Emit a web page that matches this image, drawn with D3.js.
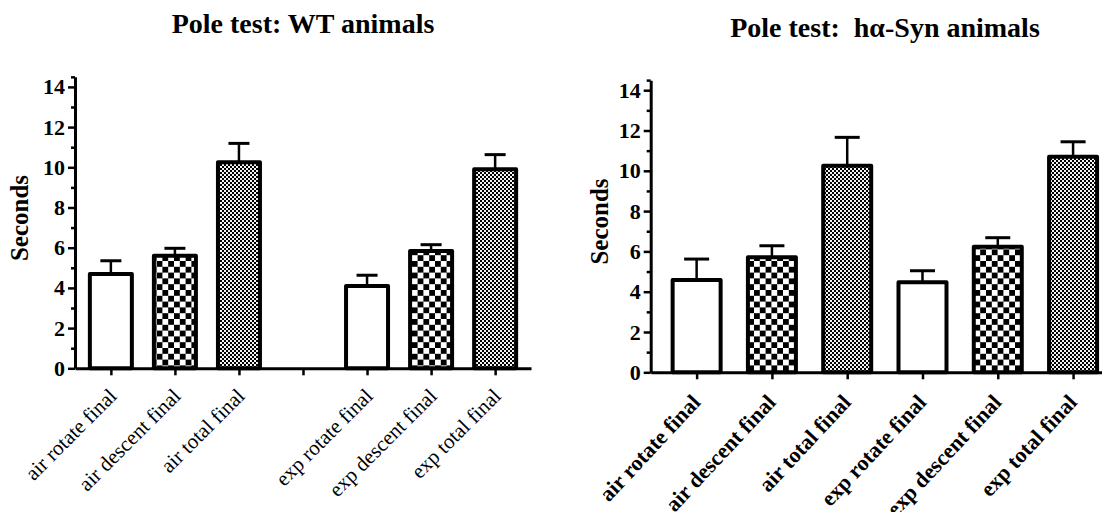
<!DOCTYPE html>
<html>
<head>
<meta charset="utf-8">
<script src="https://cdn.jsdelivr.net/npm/d3@7"></script>
<style>
  html, body { margin: 0; padding: 0; background: #fff; }
  svg { display: block; }
  text { font-family: "Liberation Serif", "Times New Roman", serif; fill: #000; }
</style>
</head>
<body>
<svg id="chart" width="1102" height="512"></svg>
<script>
// ---------- data ----------
const wtTitle = "Pole test: WT animals";
const synTitle = "Pole test:  h\u03B1-Syn animals";
const yLabel = "Seconds";

const wtCategories = ["air rotate final", "air descent final", "air total final", "", "exp rotate final", "exp descent final", "exp total final"];
const wtTypes      = ["rotate", "descent", "total", null, "rotate", "descent", "total"];
const wtMeans      = [4.69, 5.60, 10.25, null, 4.10, 5.84, 9.90];
const wtSEM        = [0.66, 0.37, 0.94, null, 0.53, 0.31, 0.73];

const synCategories = ["air rotate final", "air descent final", "air total final", "exp rotate final", "exp descent final", "exp total final"];
const synTypes      = ["rotate", "descent", "total", "rotate", "descent", "total"];
const synMeans      = [4.58, 5.71, 10.25, 4.47, 6.23, 10.70];
const synSEM        = [1.04, 0.57, 1.41, 0.57, 0.45, 0.74];

const yMajorTicks = [0, 2, 4, 6, 8, 10, 12, 14];
const yMinorTicks = [1, 3, 5, 7, 9, 11, 13, 14.5];
const yMax = 14.5;

// ---------- drawing ----------
const svg = d3.select("#chart");
const defs = svg.append("defs");

function addChecker(id, cell, bg) {
  const p = defs.append("pattern").attr("id", id)
    .attr("patternUnits", "userSpaceOnUse")
    .attr("width", cell * 2).attr("height", cell * 2);
  p.append("rect").attr("width", cell * 2).attr("height", cell * 2).attr("fill", bg);
  p.append("rect").attr("width", cell).attr("height", cell).attr("fill", "#000");
  p.append("rect").attr("x", cell).attr("y", cell).attr("width", cell).attr("height", cell).attr("fill", "#000");
}
addChecker("checkBig", 5.8, "#fff");
addChecker("checkFine", 2, "#f4f4f4");

const fillFor = { rotate: "#fff", descent: "url(#checkBig)", total: "url(#checkFine)" };
const serif = "'Liberation Serif', 'Times New Roman', serif";

function drawPanel(cfg) {
  const g = svg.append("g");
  const x = d3.scalePoint().domain(d3.range(cfg.categories.length))
    .range([cfg.left, cfg.right]).padding(cfg.padding);
  const y = d3.scaleLinear().domain([0, yMax]).range([cfg.zero, cfg.zero - yMax * cfg.unit]);

  // title
  g.append("text").attr("x", cfg.titleX).attr("y", cfg.titleY)
    .attr("text-anchor", "middle").style("white-space", "pre")
    .style("font-weight", "bold").style("font-size", "28px").text(cfg.title);

  // y label
  g.append("text")
    .attr("transform", `translate(${cfg.ylabX},${cfg.ylabY}) rotate(-90)`)
    .attr("text-anchor", "middle").style("font-weight", "bold").style("font-size", "25px")
    .text(yLabel);

  const data = cfg.categories.map((c, i) => ({ i, c, type: cfg.types[i], m: cfg.means[i], e: cfg.sem[i] }))
    .filter(d => d.m !== null);

  // error bars
  const eb = g.append("g");
  eb.selectAll("line.stem").data(data).join("line")
    .attr("x1", d => x(d.i)).attr("x2", d => x(d.i))
    .attr("y1", d => y(d.m)).attr("y2", d => y(d.m + d.e))
    .attr("stroke", "#000").attr("stroke-width", 2.5);
  eb.selectAll("line.cap").data(data).join("line")
    .attr("x1", d => x(d.i) - cfg.capW / 2).attr("x2", d => x(d.i) + cfg.capW / 2)
    .attr("y1", d => y(d.m + d.e)).attr("y2", d => y(d.m + d.e))
    .attr("stroke", "#000").attr("stroke-width", 3);

  // bars
  g.append("g").selectAll("rect").data(data).join("rect")
    .attr("x", d => x(d.i) - cfg.barW / 2).attr("width", cfg.barW)
    .attr("y", d => y(d.m)).attr("height", d => y(0) - y(d.m))
    .attr("fill", d => fillFor[d.type])
    .attr("stroke", "#000").attr("stroke-width", 4).attr("stroke-linejoin", "round");

  // y axis
  const axY = g.append("g").attr("transform", `translate(${cfg.left},0)`)
    .call(d3.axisLeft(y).tickValues(yMajorTicks).tickSize(7).tickSizeOuter(0).tickPadding(3));
  axY.attr("font-family", serif).attr("font-size", 22).attr("font-weight", "bold");
  axY.select(".domain").attr("stroke-width", 3);
  axY.selectAll(".tick line").attr("stroke-width", 2.5);
  axY.selectAll(".tick text").style("font-weight", "bold").style("font-size", "22px")
    .style("font-family", serif);
  const axYm = g.append("g").attr("transform", `translate(${cfg.left},0)`)
    .call(d3.axisLeft(y).tickValues(yMinorTicks).tickSize(4).tickSizeOuter(0).tickFormat(""));
  axYm.select(".domain").remove();
  axYm.selectAll(".tick line").attr("stroke-width", 2.5);

  // x axis
  const axX = g.append("g").attr("transform", `translate(0,${cfg.zero})`)
    .call(d3.axisBottom(x).tickSize(7).tickSizeOuter(0).tickFormat(""));
  axX.select(".domain").attr("stroke-width", 3);
  axX.selectAll(".tick line").attr("stroke-width", 2.5);

  // x labels
  g.append("g").selectAll("text").data(cfg.categories.map((c, i) => ({ c, i })).filter(d => d.c)).join("text")
    .attr("transform", d => `translate(${x(d.i) + cfg.labDx},${cfg.zero + cfg.labDy}) rotate(${cfg.labAngle})`)
    .attr("text-anchor", "end")
    .style("font-weight", cfg.labBold ? "bold" : "normal")
    .style("font-size", cfg.labSize + "px")
    .text(d => d.c);
}

drawPanel({
  title: wtTitle, titleX: 303, titleY: 33,
  ylabX: 28, ylabY: 218,
  categories: wtCategories, types: wtTypes, means: wtMeans, sem: wtSEM,
  left: 75, right: 531, padding: 0.56,
  zero: 368.3, unit: 20.1,
  barW: 42, capW: 21,
  labDx: 7, labDy: 29, labAngle: -45, labBold: false, labSize: 21
});

drawPanel({
  title: synTitle, titleX: 885, titleY: 37,
  ylabX: 608, ylabY: 221.5,
  categories: synCategories, types: synTypes, means: synMeans, sem: synSEM,
  left: 650.7, right: 1119, padding: 0.61,
  zero: 372.3, unit: 20.15,
  barW: 48, capW: 25,
  labDx: 5, labDy: 31, labAngle: -47, labBold: true, labSize: 22
});
</script>
</body>
</html>
